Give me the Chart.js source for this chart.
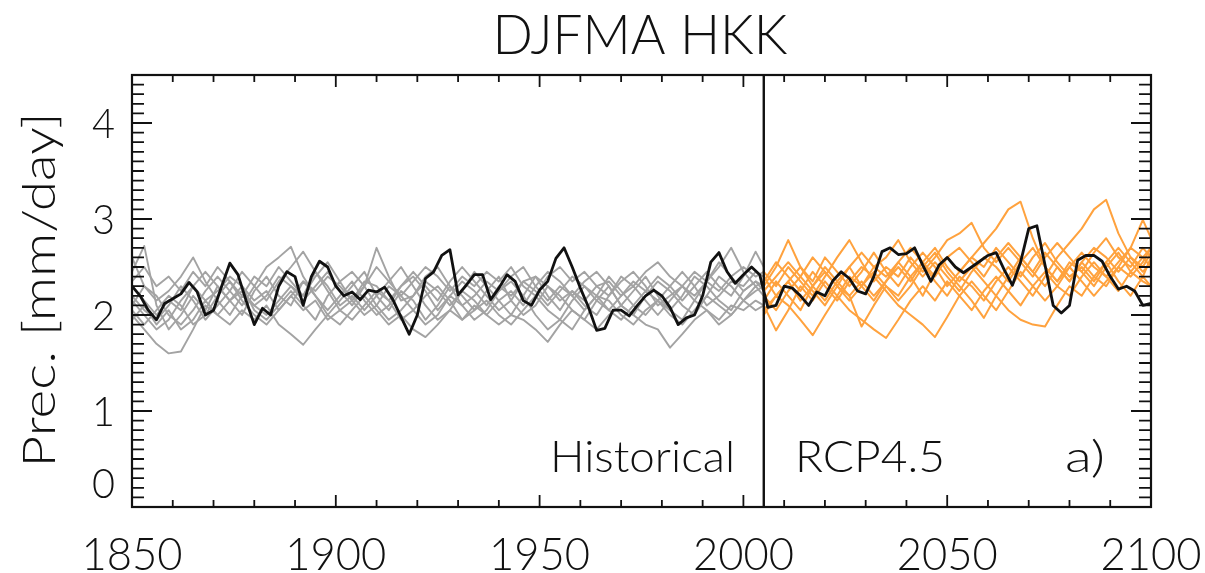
<!DOCTYPE html>
<html>
<head>
<meta charset="utf-8">
<script src="https://cdn.jsdelivr.net/npm/chart.js@4.4.1/dist/chart.umd.min.js"></script>
<style>
  html, body { margin: 0; padding: 0; background: #fff; }
  #chart { display: block; }
</style>
</head>
<body>
<canvas id="chart" width="1205" height="573"></canvas>
<script>
// axis ticks
const xTickLabels = [1850, 1900, 1950, 2000, 2050, 2100];
const yTickLabels = [0, 1, 2, 3, 4];
const splitYear = 2005;

// black run, every 2 years 1850-2100
const blackValues = [
  2.3, 2.2, 2.05, 1.95, 2.12,
  2.17, 2.22, 2.34, 2.24, 2.0,
  2.05, 2.3, 2.54, 2.42, 2.15,
  1.9, 2.07, 2.0, 2.3, 2.45,
  2.4, 2.1, 2.4, 2.56, 2.5,
  2.3, 2.2, 2.24, 2.16, 2.26,
  2.24, 2.29, 2.16, 1.98, 1.8,
  2.0, 2.38, 2.45, 2.62, 2.68,
  2.21, 2.31, 2.42, 2.42, 2.16,
  2.28, 2.42, 2.35, 2.15, 2.1,
  2.26, 2.35, 2.59, 2.7, 2.5,
  2.28, 2.08, 1.84, 1.86, 2.05,
  2.05, 1.99, 2.1, 2.2, 2.26,
  2.2, 2.08, 1.9, 1.97, 2.0,
  2.2, 2.55, 2.65, 2.45, 2.33,
  2.42, 2.5, 2.42, 2.08, 2.1,
  2.3, 2.28, 2.2, 2.1, 2.24,
  2.2, 2.36, 2.45, 2.38, 2.25,
  2.22, 2.4, 2.66, 2.7, 2.63,
  2.64, 2.7, 2.52, 2.35, 2.52,
  2.6, 2.5, 2.44, 2.5, 2.56,
  2.62, 2.65, 2.47, 2.31, 2.55,
  2.9, 2.93, 2.52, 2.1, 2.02,
  2.1, 2.57, 2.62, 2.62, 2.56,
  2.4, 2.27, 2.3, 2.25, 2.1,
  2.12
];

// historical members, every 3 years 1850-2003, last point 2005
const hist1 = [2.45, 2.72, 2.1, 1.85, 2.0, 2.2, 2.05, 2.3, 2.15, 2.0, 2.25, 2.4, 2.2, 2.1, 2.35, 2.2, 2.0, 2.15, 2.3, 2.45, 2.2, 2.05, 2.25, 2.15, 1.95, 2.1, 2.3, 2.2, 2.05, 2.25, 2.4, 2.15, 2.0, 2.1, 2.3, 2.2, 2.05, 1.95, 2.15, 2.3, 2.1, 2.0, 2.2, 2.35, 2.25, 2.1, 2.0, 2.2, 2.4, 2.3, 2.15, 2.25, 2.3];
const hist2 = [2.0, 1.85, 1.7, 1.6, 1.62, 1.85, 2.1, 2.0, 2.15, 2.3, 2.05, 1.95, 2.1, 2.25, 2.1, 1.95, 2.2, 2.35, 2.15, 2.0, 2.1, 2.3, 2.2, 2.05, 1.9, 2.0, 2.2, 2.1, 1.95, 2.05, 2.25, 2.35, 2.2, 2.0, 1.85, 1.95, 2.15, 2.3, 2.2, 2.05, 1.95, 2.1, 2.25, 2.15, 2.0, 1.9, 2.05, 2.2, 2.1, 2.0, 2.15, 2.3, 2.2];
const hist3 = [2.6, 2.3, 2.15, 2.25, 2.4, 2.6, 2.35, 2.15, 2.0, 2.2, 2.1, 2.2, 2.4, 2.3, 2.15, 2.3, 2.45, 2.25, 2.1, 2.3, 2.7, 2.4, 2.15, 2.2, 2.35, 2.25, 2.1, 2.25, 2.45, 2.3, 2.15, 2.0, 2.2, 2.4, 2.3, 2.15, 2.25, 2.1, 2.0, 2.2, 2.35, 2.45, 2.3, 2.1, 2.2, 2.3, 2.15, 2.35, 2.5, 2.7, 2.45, 2.3, 2.35];
const hist4 = [2.2, 2.05, 1.95, 2.1, 2.3, 2.15, 1.95, 2.1, 2.25, 2.45, 2.3, 2.5, 2.6, 2.71, 2.4, 2.2, 2.05, 2.2, 2.35, 2.15, 2.0, 2.1, 2.3, 2.45, 2.3, 2.15, 2.35, 2.5, 2.35, 2.2, 2.05, 2.15, 2.35, 2.25, 2.1, 2.25, 2.4, 2.3, 2.15, 2.05, 2.2, 2.35, 2.25, 2.4, 2.3, 2.15, 2.3, 2.45, 2.3, 2.2, 2.4, 2.66, 2.5];
const hist5 = [2.1, 2.3, 2.2, 2.0, 1.9, 2.05, 2.25, 2.4, 2.25, 2.1, 2.3, 2.15, 2.35, 2.5, 2.66, 2.45, 2.25, 2.05, 2.15, 2.3, 2.1, 1.95, 2.05, 2.2, 2.4, 2.5, 2.3, 2.1, 2.2, 2.35, 2.25, 2.4, 2.5, 2.3, 2.15, 2.3, 2.2, 2.05, 2.2, 2.4, 2.25, 2.1, 2.0, 2.15, 2.3, 2.45, 2.3, 2.1, 2.2, 2.35, 2.3, 2.45, 2.4];
const hist6 = [1.95, 2.1, 1.9, 2.05, 1.85, 1.95, 2.15, 2.0, 1.9, 2.05, 1.95, 2.1, 1.9, 1.8, 1.69, 1.85, 2.0, 1.9, 2.05, 2.2, 2.05, 1.9, 2.0, 1.85, 1.77, 1.9, 2.05, 1.95, 2.1, 2.0, 1.9, 2.0, 1.95, 1.85, 1.72, 1.9, 2.05, 1.95, 1.85, 2.0, 2.1, 2.0, 1.9, 1.85, 1.66, 1.8, 1.95, 2.05, 1.95, 2.1, 2.05, 2.15, 2.1];
const hist7 = [2.3, 2.15, 2.0, 2.15, 2.05, 2.3, 2.45, 2.3, 2.15, 2.25, 2.1, 2.0, 2.15, 2.3, 2.2, 2.45, 2.3, 2.1, 2.2, 2.05, 2.2, 2.35, 2.5, 2.3, 2.1, 1.95, 2.05, 2.25, 2.15, 2.0, 2.15, 2.25, 2.1, 2.3, 2.45, 2.35, 2.2, 2.35, 2.45, 2.3, 2.1, 2.25, 2.4, 2.2, 2.05, 2.2, 2.4, 2.3, 2.15, 2.05, 2.25, 2.35, 2.25];
const hist8 = [2.05, 1.9, 2.05, 2.2, 2.1, 1.9, 2.0, 2.2, 2.35, 2.15, 2.0, 1.9, 2.05, 2.2, 2.05, 2.15, 1.95, 2.05, 1.95, 2.1, 2.25, 2.15, 1.95, 2.05, 2.2, 2.3, 2.15, 1.95, 2.05, 2.15, 2.0, 1.9, 2.05, 2.2, 2.05, 1.95, 1.85, 2.05, 2.2, 2.15, 2.0, 1.9, 2.05, 2.15, 2.05, 1.95, 2.15, 2.05, 1.9, 2.0, 2.15, 2.05, 2.1];
const hist9 = [2.35, 2.5, 2.3, 2.4, 2.25, 2.45, 2.3, 2.5, 2.35, 2.2, 2.4, 2.3, 2.5, 2.35, 2.2, 2.4, 2.55, 2.35, 2.45, 2.3, 2.5, 2.35, 2.2, 2.35, 2.5, 2.4, 2.25, 2.4, 2.3, 2.45, 2.35, 2.5, 2.3, 2.2, 2.4, 2.5, 2.35, 2.45, 2.3, 2.2, 2.4, 2.3, 2.45, 2.55, 2.4, 2.3, 2.45, 2.35, 2.55, 2.4, 2.5, 2.4, 2.45];
const hist10 = [2.15, 2.0, 1.85, 1.95, 2.15, 2.3, 2.15, 2.25, 2.4, 2.3, 2.15, 2.25, 2.05, 2.2, 2.35, 2.25, 2.4, 2.3, 2.15, 2.35, 2.3, 2.15, 2.3, 2.4, 2.25, 2.05, 2.2, 2.35, 2.25, 2.1, 2.3, 2.2, 2.35, 2.4, 2.2, 2.05, 2.25, 2.15, 2.3, 2.35, 2.2, 2.3, 2.15, 2.0, 2.15, 2.3, 2.2, 2.35, 2.25, 2.4, 2.25, 2.35, 2.3];

// RCP4.5 members, every 3 years 2005-2098, last point 2100
const rcp1 = [2.3, 2.5, 2.78, 2.5, 2.3, 2.45, 2.3, 2.15, 2.3, 2.5, 2.6, 2.78, 2.55, 2.4, 2.55, 2.4, 2.25, 2.45, 2.6, 2.5, 2.35, 2.55, 2.7, 2.5, 2.35, 2.5, 2.65, 2.5, 2.4, 2.55, 2.7, 2.6, 2.5];
const rcp2 = [2.1, 1.84, 2.05, 2.3, 2.15, 2.35, 2.2, 2.4, 2.3, 2.15, 2.35, 2.55, 2.4, 2.2, 2.45, 2.6, 2.45, 2.6, 2.75, 2.9, 3.1, 3.18, 2.8, 2.5, 2.35, 2.55, 2.45, 2.3, 2.5, 2.65, 2.45, 2.6, 2.7];
const rcp3 = [2.0, 2.2, 2.1, 1.95, 1.79, 2.0, 2.2, 2.05, 1.95, 1.85, 1.76, 1.95, 2.15, 2.3, 2.15, 2.35, 2.2, 2.05, 2.25, 2.4, 2.25, 2.1, 2.3, 2.45, 2.3, 2.2, 2.4, 2.55, 2.4, 2.25, 2.45, 2.35, 2.3];
const rcp4 = [2.45, 2.3, 2.5, 2.35, 2.2, 2.4, 2.6, 2.78, 2.55, 2.35, 2.5, 2.4, 2.6, 2.45, 2.6, 2.78, 2.85, 2.96, 2.7, 2.55, 2.7, 2.55, 2.4, 2.6, 2.75, 2.6, 2.45, 2.65, 2.8, 2.6, 2.5, 2.7, 2.6];
const rcp5 = [2.2, 2.05, 2.25, 2.4, 2.25, 2.1, 2.3, 2.2, 1.88, 2.1, 2.3, 2.2, 2.4, 2.55, 2.35, 2.2, 2.4, 2.3, 2.15, 2.35, 2.5, 2.35, 2.2, 2.4, 2.6, 2.75, 2.9, 3.1, 3.2, 2.85, 2.6, 2.45, 2.55];
const rcp6 = [2.35, 2.55, 2.4, 2.25, 2.45, 2.3, 2.15, 2.35, 2.5, 2.4, 2.25, 2.1, 2.0, 1.9, 1.77, 1.98, 2.2, 2.35, 2.2, 2.05, 2.25, 2.45, 2.3, 2.15, 2.3, 2.5, 2.35, 2.2, 2.35, 2.5, 2.4, 2.55, 2.7];
const rcp7 = [2.15, 2.35, 2.2, 2.05, 2.3, 2.5, 2.35, 2.2, 2.35, 2.2, 2.35, 2.5, 2.35, 2.55, 2.7, 2.5, 2.35, 2.5, 2.35, 2.2, 2.05, 1.95, 1.9, 1.88, 2.1, 2.3, 2.2, 2.4, 2.55, 2.35, 2.2, 2.4, 2.3];
const rcp8 = [2.05, 2.2, 2.35, 2.15, 2.3, 2.15, 2.35, 2.5, 2.3, 2.45, 2.3, 2.15, 2.3, 2.5, 2.65, 2.45, 2.3, 2.15, 1.97, 2.2, 2.4, 2.6, 2.45, 2.3, 2.5, 2.35, 2.55, 2.4, 2.3, 2.5, 2.7, 2.99, 2.8];
const rcp9 = [2.25, 2.4, 2.55, 2.4, 2.6, 2.45, 2.3, 2.5, 2.65, 2.5, 2.4, 2.55, 2.7, 2.55, 2.4, 2.6, 2.7, 2.55, 2.4, 2.6, 2.75, 2.6, 2.45, 2.65, 2.5, 2.35, 2.55, 2.7, 2.6, 2.45, 2.6, 2.5, 2.65];
const rcp10 = [2.4, 2.2, 2.35, 2.5, 2.35, 2.6, 2.45, 2.3, 2.45, 2.65, 2.45, 2.3, 2.5, 2.65, 2.5, 2.3, 2.45, 2.6, 2.5, 2.7, 2.55, 2.4, 2.6, 2.75, 2.55, 2.4, 2.5, 2.35, 2.55, 2.7, 2.55, 2.4, 2.6];

const histMembers = [hist1, hist2, hist3, hist4, hist5, hist6, hist7, hist8, hist9, hist10];
const rcpMembers = [rcp1, rcp2, rcp3, rcp4, rcp5, rcp6, rcp7, rcp8, rcp9, rcp10];

// regular year steps, last point held at the period end
function toPoints(values, start, step, end) {
  return values.map((v, i) => ({ x: Math.min(start + i * step, end), y: v }));
}

const GRAY = "#a3a3a3";
const ORANGE = "#ffa23e";
const FONT = "Lato, 'DejaVu Sans', sans-serif";

const datasets = [
  {
    data: toPoints(blackValues, 1850, 2, 2100),
    borderColor: "#111",
    borderWidth: 2.8,
  },
];
rcpMembers.forEach((m) => {
  datasets.push({ data: toPoints(m, 2005, 3, 2100), borderColor: ORANGE, borderWidth: 2 });
});
histMembers.forEach((m) => {
  datasets.push({ data: toPoints(m, 1850, 3, 2005), borderColor: GRAY, borderWidth: 1.9 });
});

// text squeezed to a given width, like the IDL vector font
function fitText(ctx, text, x, y, size, width, align) {
  ctx.save();
  ctx.font = "300 " + size + "px " + FONT;
  const w = ctx.measureText(text).width;
  const sx = width / w;
  ctx.translate(x, y);
  ctx.scale(sx, 1);
  ctx.textAlign = align || "center";
  ctx.fillText(text, 0, 0);
  ctx.restore();
}

const framePlugin = {
  id: "frame",
  afterDatasetsDraw(chart) {
    const { ctx, chartArea: a, scales } = chart;
    const xs = scales.x;
    const ys = scales.y;
    ctx.save();
    ctx.strokeStyle = "#111";
    ctx.fillStyle = "#111";

    // period split
    const xs05 = xs.getPixelForValue(splitYear);
    ctx.lineWidth = 2.4;
    ctx.beginPath();
    ctx.moveTo(xs05, a.top);
    ctx.lineTo(xs05, a.bottom);
    ctx.stroke();

    // box
    ctx.lineWidth = 2.2;
    ctx.strokeRect(a.left, a.top, a.right - a.left, a.bottom - a.top);

    // x ticks, inside
    ctx.lineWidth = 1.8;
    for (let yr = 1850; yr <= 2100; yr += 10) {
      const px = xs.getPixelForValue(yr);
      const len = yr % 50 === 0 ? 12 : 7;
      ctx.beginPath();
      ctx.moveTo(px, a.bottom);
      ctx.lineTo(px, a.bottom - len);
      ctx.moveTo(px, a.top);
      ctx.lineTo(px, a.top + len);
      ctx.stroke();
    }
    // y ticks, inside
    for (let i = 0; i <= 45; i++) {
      const py = ys.getPixelForValue(i / 10);
      const len = i % 10 === 0 ? 20 : 12;
      ctx.beginPath();
      ctx.moveTo(a.left, py);
      ctx.lineTo(a.left + len, py);
      ctx.moveTo(a.right, py);
      ctx.lineTo(a.right - len, py);
      ctx.stroke();
    }

    ctx.textBaseline = "alphabetic";
    xTickLabels.forEach((yr) => {
      fitText(ctx, String(yr), xs.getPixelForValue(yr), 570, 45, 101, "center");
    });
    ctx.textBaseline = "middle";
    yTickLabels.forEach((v) => {
      const py = Math.min(ys.getPixelForValue(v) + 2, a.bottom - 22);
      fitText(ctx, String(v), 115, py, 41, 23, "right");
    });

    ctx.textBaseline = "alphabetic";
    fitText(ctx, "DJFMA HKK", 640, 54, 55, 295, "center");
    fitText(ctx, "Historical", 550, 472, 44, 185, "left");
    fitText(ctx, "RCP4.5", 795, 472, 44, 150, "left");
    fitText(ctx, "a)", 1065, 472, 44, 40, "left");

    // y title, rotated
    ctx.save();
    ctx.translate(55, 290);
    ctx.rotate(-Math.PI / 2);
    fitText(ctx, "Prec. [mm/day]", 0, 0, 45, 355, "center");
    ctx.restore();

    ctx.restore();
  },
};

new Chart(document.getElementById("chart"), {
  type: "line",
  data: { datasets },
  options: {
    responsive: false,
    animation: false,
    devicePixelRatio: 1,
    layout: { padding: { left: 132, right: 54, top: 75, bottom: 66 } },
    elements: {
      point: { radius: 0 },
      line: { tension: 0, borderJoinStyle: "round", borderCapStyle: "round" },
    },
    plugins: {
      legend: { display: false },
      title: { display: false },
      tooltip: { enabled: false },
    },
    scales: {
      x: { type: "linear", min: 1850, max: 2100, display: false },
      y: { type: "linear", min: 0, max: 4.5, display: false },
    },
  },
  plugins: [framePlugin],
});
</script>
</body>
</html>
